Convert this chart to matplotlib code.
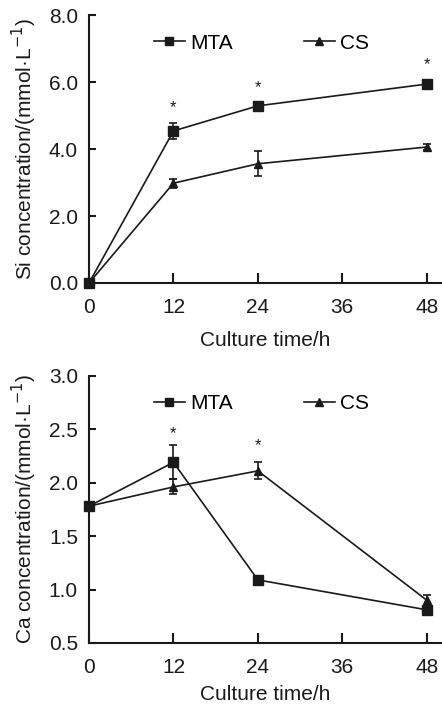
import matplotlib
matplotlib.use("Agg")
import matplotlib.pyplot as plt

plt.rcParams['font.family'] = ['Liberation Sans', 'DejaVu Sans']

time = [0, 12, 24, 48]
xticks = [0, 12, 24, 36, 48]

si_mta = [0.0, 4.54, 5.29, 5.94]
si_mta_err = [0.0, 0.23, 0.08, 0.08]
si_cs = [0.0, 2.98, 3.56, 4.06]
si_cs_err = [0.0, 0.13, 0.37, 0.10]
si_star_x = [12, 24, 48]
si_star_y = [5.25, 5.82, 6.52]

ca_mta = [1.78, 2.19, 1.09, 0.81]
ca_mta_err = [0.0, 0.16, 0.02, 0.04]
ca_cs = [1.78, 1.96, 2.11, 0.90]
ca_cs_err = [0.0, 0.07, 0.08, 0.05]
ca_star_x = [12, 24]
ca_star_y = [2.46, 2.35]

C = '#1a1a1a'
FS = 15

fig = plt.figure(figsize=(4.42, 7.05), dpi=100)
ax1 = fig.add_axes([0.2014, 0.5986, 0.796, 0.380])
ax2 = fig.add_axes([0.2014, 0.088, 0.796, 0.379])


def style(ax, ylim, yticks, ylabel, fmt, xlabelpad):
    ax.set_xlim(0, 50)
    ax.set_ylim(*ylim)
    ax.set_xticks(xticks)
    ax.set_xticklabels([str(v) for v in xticks])
    ax.set_yticks(yticks)
    ax.set_yticklabels([fmt.format(v) for v in yticks])
    for s in ['top', 'right']:
        ax.spines[s].set_visible(False)
    for s in ['left', 'bottom']:
        ax.spines[s].set_linewidth(1.5)
        ax.spines[s].set_color(C)
    ax.tick_params(axis='x', direction='in', length=7, width=1.5, colors=C,
                   labelsize=FS, pad=11)
    ax.tick_params(axis='y', direction='in', length=5, width=1.5, colors=C,
                   labelsize=FS, pad=8)
    ax.set_xlabel('Culture time/h', fontsize=FS, color=C, labelpad=xlabelpad)
    ax.set_ylabel(ylabel, fontsize=FS, color=C, labelpad=7)


def draw(ax, mta, mta_err, cs, cs_err):
    ax.errorbar(time, mta, yerr=mta_err, color=C, marker='s', markersize=7,
                linewidth=1.2, capsize=3, elinewidth=1.2, capthick=1.2,
                label='MTA', clip_on=False, zorder=3)
    ax.errorbar(time, cs, yerr=cs_err, color=C, marker='^', markersize=6,
                linewidth=1.2, capsize=3, elinewidth=1.2, capthick=1.2,
                label='CS', clip_on=False, zorder=3)
    h, l = ax.get_legend_handles_labels()
    h = [hh[0] for hh in h]
    ax.legend(h, l, ncol=2, frameon=False, fontsize=FS, loc='center left',
              bbox_to_anchor=(0.16, 0.895), handlelength=1.5,
              handletextpad=0.25, columnspacing=3.4, borderaxespad=0,
              markerscale=0.85)


draw(ax1, si_mta, si_mta_err, si_cs, si_cs_err)
style(ax1, (0, 8), [0, 2, 4, 6, 8], 'Si concentration/(mmol·L$^{-1}$)',
      '{:.1f}', 10)
for x, y in zip(si_star_x, si_star_y):
    ax1.text(x, y, '*', ha='center', va='center', fontsize=12, color=C)

draw(ax2, ca_mta, ca_mta_err, ca_cs, ca_cs_err)
style(ax2, (0.5, 3.0), [0.5, 1.0, 1.5, 2.0, 2.5, 3.0],
      'Ca concentration/(mmol·L$^{-1}$)', '{:.1f}', 5.5)
for x, y in zip(ca_star_x, ca_star_y):
    ax2.text(x, y, '*', ha='center', va='center', fontsize=12, color=C)

fig.savefig('out.png', dpi=100)
